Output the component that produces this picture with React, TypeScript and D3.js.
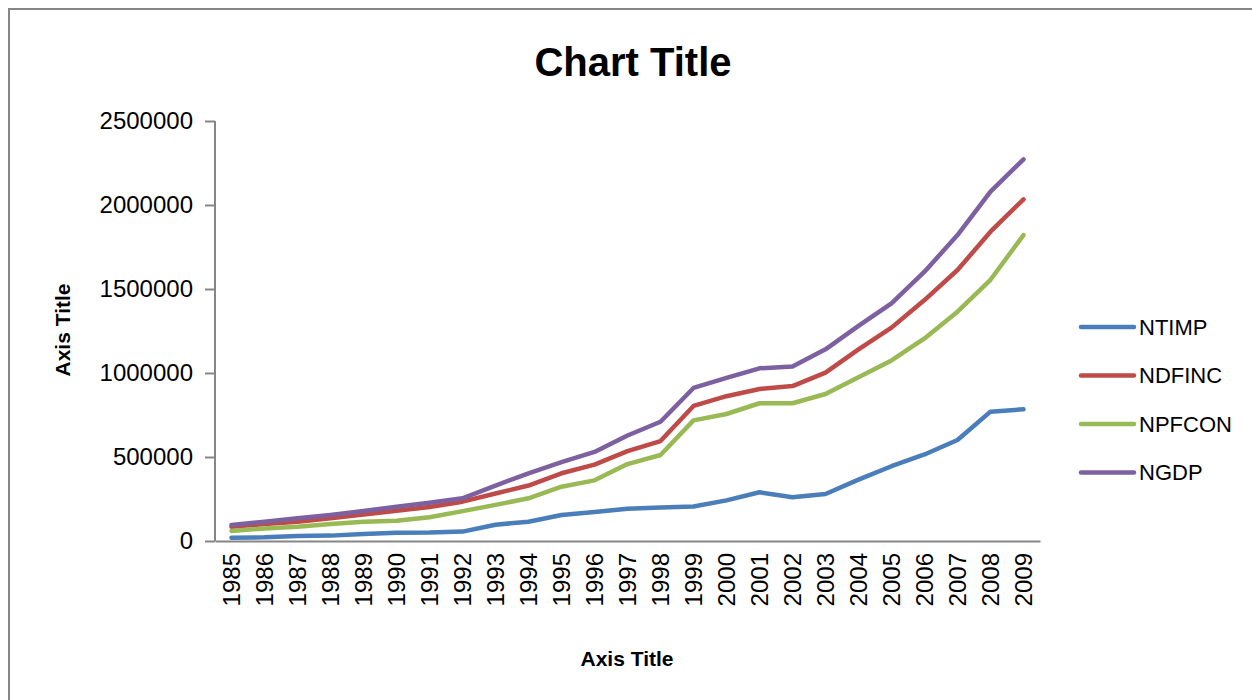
import * as React from "react"
import * as d3 from "d3"

const years = ["1985", "1986", "1987", "1988", "1989", "1990", "1991", "1992", "1993", "1994",
    "1995", "1996", "1997", "1998", "1999", "2000", "2001", "2002", "2003", "2004",
    "2005", "2006", "2007", "2008", "2009"]

const ntimp = [20000, 22000, 30000, 32000, 42000, 49000, 50000, 56000, 97000, 115000,
    155000, 172000, 192000, 200000, 205000, 242000, 290000, 260000, 280000, 365000,
    445000, 515000, 601000, 770000, 784000]
const ndfinc = [85000, 101000, 115000, 135000, 158000, 180000, 202000, 234000, 283000, 330000,
    403000, 455000, 535000, 595000, 804000, 862000, 905000, 922000, 1002000, 1141000,
    1270000, 1434000, 1613000, 1841000, 2034000]
const npfcon = [60000, 75000, 85000, 101000, 115000, 121000, 141000, 178000, 215000, 254000,
    323000, 361000, 458000, 512000, 718000, 756000, 820000, 820000, 875000, 975000,
    1075000, 1206000, 1365000, 1555000, 1821000]
const ngdp = [95000, 115000, 135000, 155000, 179000, 204000, 228000, 254000, 330000, 403000,
    470000, 530000, 628000, 710000, 911000, 971000, 1028000, 1038000, 1141000, 1280000,
    1415000, 1603000, 1821000, 2079000, 2272000]

const seriesNames = ["NTIMP", "NDFINC", "NPFCON", "NGDP"]
const seriesColors = ["#4a7ebb", "#be4b48", "#98b954", "#7d60a0"]
const yTicks = [0, 500000, 1000000, 1500000, 2000000, 2500000]

const FONT = "'Liberation Sans', Arial, sans-serif"

export default function App(): JSX.Element {
    const ref = React.useRef<SVGSVGElement | null>(null)

    React.useEffect(() => {
        const width = 1252
        const height = 700
        const margin = {top: 121, right: 212, bottom: 159, left: 215}
        const innerW = width - margin.left - margin.right
        const innerH = height - margin.top - margin.bottom

        const svg = d3.select(ref.current)
        svg.selectAll("*").remove()

        // chart area frame (continues off the picture on right/bottom)
        svg.append("rect")
            .attr("x", 9).attr("y", 9)
            .attr("width", 1400).attr("height", 900)
            .attr("fill", "#fff")
            .attr("stroke", "#868686")
            .attr("stroke-width", 2)

        svg.append("text")
            .attr("x", 633).attr("y", 76)
            .attr("text-anchor", "middle")
            .attr("font-family", FONT)
            .attr("font-weight", "bold")
            .attr("font-size", 40)
            .text("Chart Title")

        const x = d3.scaleBand<string>().domain(years).range([0, innerW])
        const y = d3.scaleLinear().domain([0, 2500000]).range([innerH, 0])

        const g = svg.append("g")
            .attr("transform", "translate(" + margin.left + "," + margin.top + ")")

        // y axis
        const yAxis = d3.axisLeft(y).tickValues(yTicks).tickSize(10).tickPadding(12)
            .tickFormat((d) => String(d))
        const yAxisG = g.append("g").call(yAxis)
        yAxisG.select(".domain").attr("stroke", "#868686").attr("stroke-width", 2)
            .attr("d", "M0," + innerH + "V0")
        yAxisG.selectAll(".tick line").attr("stroke", "#868686").attr("stroke-width", 2)
        yAxisG.selectAll(".tick text")
            .attr("font-family", FONT).attr("font-size", 24).attr("fill", "#000")

        // x axis
        const xAxis = d3.axisBottom(x).tickSize(0).tickPadding(0)
        const xAxisG = g.append("g")
            .attr("transform", "translate(0," + innerH + ")")
            .call(xAxis)
        xAxisG.select(".domain").attr("stroke", "#868686").attr("stroke-width", 2)
        xAxisG.selectAll(".tick text")
            .attr("font-family", FONT).attr("font-size", 24).attr("fill", "#000")
            .attr("transform", "rotate(-90)")
            .attr("text-anchor", "end")
            .attr("x", -12).attr("y", 0).attr("dy", "0.35em")

        // axis titles
        svg.append("text")
            .attr("x", 627).attr("y", 666)
            .attr("text-anchor", "middle")
            .attr("font-family", FONT).attr("font-weight", "bold").attr("font-size", 21)
            .text("Axis Title")
        svg.append("text")
            .attr("transform", "translate(70,330) rotate(-90)")
            .attr("text-anchor", "middle")
            .attr("font-family", FONT).attr("font-weight", "bold").attr("font-size", 21)
            .text("Axis Title")

        // lines
        const allSeries = [ntimp, ndfinc, npfcon, ngdp]
        const line = d3.line<number>()
            .x((d, i) => (x(years[i]) || 0) + x.bandwidth() / 2)
            .y((d) => y(d))

        allSeries.forEach((values, i) => {
            g.append("path")
                .datum(values)
                .attr("fill", "none")
                .attr("stroke", seriesColors[i])
                .attr("stroke-width", 4.5)
                .attr("stroke-linejoin", "round")
                .attr("stroke-linecap", "round")
                .attr("d", line)
        })

        // legend
        const legend = svg.append("g").attr("transform", "translate(1081,327)")
        seriesNames.forEach((name, i) => {
            const row = legend.append("g").attr("transform", "translate(0," + i * 48.5 + ")")
            row.append("line")
                .attr("x1", 0).attr("x2", 53)
                .attr("stroke", seriesColors[i])
                .attr("stroke-width", 4.5)
                .attr("stroke-linecap", "round")
            row.append("text")
                .attr("x", 58).attr("dy", "0.36em")
                .attr("font-family", FONT).attr("font-size", 22)
                .text(name)
        })
    }, [])

    return (
        <svg ref={ref} width={1252} height={700}
            style={{position: "absolute", left: 0, top: 0, background: "#fff"}} />
    )
}
